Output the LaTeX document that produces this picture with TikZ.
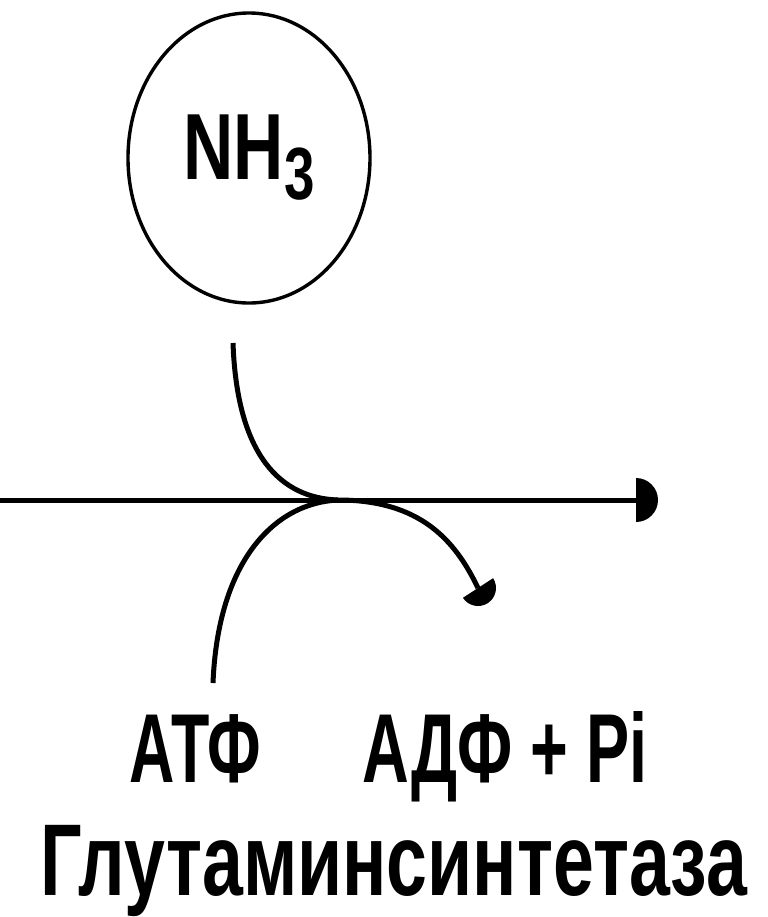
\documentclass[tikz,border=0pt]{standalone}
\usepackage{fontspec}
\setmainfont{Liberation Sans}
\usetikzlibrary{shapes.geometric,arrows.meta,positioning}

\tikzset{
  flow/.style={line width=2.5pt},
  label/.style={anchor=base,inner sep=0pt,font=\bfseries}
}
% half-disc arrow head: #1 = back point, #2 = angle, #3 = radius
\newcommand{\halfhead}[3]{%
  \fill (#1) ++(#2-90:#3) arc[start angle=#2-90,end angle=#2+90,radius=#3] -- cycle;}

\begin{document}
\begin{tikzpicture}[x=0.5pt,y=-0.5pt]
    \useasboundingbox (0,0) rectangle (767,917);
    \node[ellipse,draw,line width=1.7pt,minimum width=121pt,minimum height=145pt,inner sep=0pt] (nh3) at (249,158)
        {\scalebox{0.74}[1]{\bfseries\fontsize{47}{50}\selectfont NH\raisebox{-10pt}{\fontsize{37}{40}\selectfont 3}}};
    \coordinate (left) at (0,500);
    \coordinate (right) at (636,500);
    \coordinate (join) at (338,500);
    \coordinate (nh3end) at (233,343);
    \coordinate (atpend) at (213,683);
    \coordinate (adpend) at (478,588);
    \draw[flow] (left) -- (right);
    \halfhead{right}{0}{22}
    \draw[flow] (nh3end) .. controls (237,455) and (280,498) .. (join);
    \draw[flow] (atpend) .. controls (218,560) and (275,503) .. (join);
    \draw[flow] (join) .. controls (420,500) and (455,540) .. (adpend);
    \halfhead{adpend}{57}{18}
    \node[label] (atp) at (195,782) {\scalebox{0.64}[1]{\fontsize{49}{50}\selectfont АТФ}};
    \node[label] (adp) at (505,782) {\scalebox{0.66}[1]{\fontsize{49}{50}\selectfont АДФ + Pi}};
    \node[label] (enzyme) at (394,895) {\scalebox{0.72}[1]{\fontsize{51}{55}\selectfont Глутаминсинтетаза}};
\end{tikzpicture}
\end{document}
